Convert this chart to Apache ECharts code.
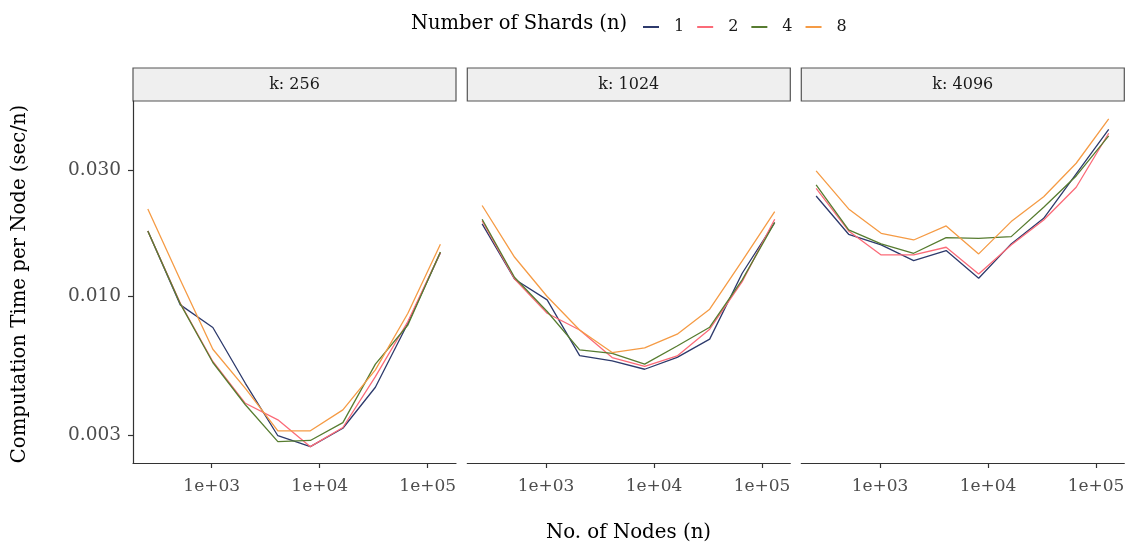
<!DOCTYPE html>
<html>
<head>
<meta charset="utf-8">
<script src="https://cdn.jsdelivr.net/npm/echarts@6/dist/echarts.min.js"></script>
<style>html,body{margin:0;padding:0;background:#fff;}#c{width:1134px;height:548px;}</style>
</head>
<body>
<div id="c"></div>
<script>
const nodes = [256, 512, 1024, 2048, 4096, 8192, 16384, 32768, 65536, 131072];
const shards = ['1', '2', '4', '8'];
const panels = ['k: 256', 'k: 1024', 'k: 4096'];
const xTicks = [1000, 10000, 100000];
const yTicks = [0.003, 0.01, 0.03];

// k = 256
const k256_n1 = [0.01767, 0.00929, 0.00763, 0.00470, 0.00298, 0.00271, 0.00318, 0.00454, 0.00792, 0.01463];
const k256_n2 = [0.01767, 0.00942, 0.00568, 0.00395, 0.00342, 0.00271, 0.00320, 0.00498, 0.00804, 0.01463];
const k256_n4 = [0.01767, 0.00937, 0.00563, 0.00390, 0.00283, 0.00286, 0.00334, 0.00555, 0.00780, 0.01472];
const k256_n8 = [0.02139, 0.01154, 0.00632, 0.00450, 0.00311, 0.00311, 0.00373, 0.00528, 0.00864, 0.01573];
// k = 1024
const k1024_n1 = [0.01878, 0.01161, 0.00970, 0.00598, 0.00571, 0.00531, 0.00589, 0.00690, 0.01223, 0.01900];
const k1024_n2 = [0.01933, 0.01164, 0.00864, 0.00747, 0.00588, 0.00544, 0.00596, 0.00752, 0.01137, 0.01955];
const k1024_n4 = [0.01955, 0.01178, 0.00877, 0.00628, 0.00610, 0.00555, 0.00650, 0.00765, 0.01154, 0.01900];
const k1024_n8 = [0.02203, 0.01405, 0.00999, 0.00747, 0.00614, 0.00639, 0.00720, 0.00895, 0.01361, 0.02090];
// k = 4096
const k4096_n1 = [0.02393, 0.01716, 0.01564, 0.01365, 0.01489, 0.01171, 0.01578, 0.01972, 0.02900, 0.04274];
const k4096_n2 = [0.02559, 0.01767, 0.01434, 0.01434, 0.01533, 0.01216, 0.01564, 0.01944, 0.02582, 0.04128];
const k4096_n4 = [0.02635, 0.01782, 0.01578, 0.01455, 0.01667, 0.01657, 0.01681, 0.02171, 0.02849, 0.04034];
const k4096_n8 = [0.02976, 0.02139, 0.01731, 0.01633, 0.01845, 0.01447, 0.01916, 0.02379, 0.03181, 0.04675];

const panelData = [
  [k256_n1, k256_n2, k256_n4, k256_n8],
  [k1024_n1, k1024_n2, k1024_n4, k1024_n8],
  [k4096_n1, k4096_n2, k4096_n4, k4096_n8]
];

const colors = ['#2d3a6c', '#fb6b78', '#577c30', '#f59b45'];
const FONT = 'DejaVu Serif';
const lefts = [133, 467.3, 801.3];
const W = 323, TOP = 101, H = 362;

const grids = [], xAxes = [], yAxes = [], series = [], graphics = [];
lefts.forEach((l, p) => {
  grids.push({ left: l, top: TOP, width: W, height: H });
  xAxes.push({
    type: 'log', gridIndex: p, min: 186.6, max: 182800,
    axisLine: { show: true, lineStyle: { color: '#333', width: 1.2 } },
    axisTick: { show: true, length: 5, lineStyle: { color: '#333', width: 1.2 }, customValues: xTicks },
    axisLabel: { show: true, color: '#4d4d4d', fontFamily: FONT, fontSize: 17, margin: 15,
      customValues: xTicks,
      formatter: v => '1e+0' + Math.round(Math.log10(v)) },
    splitLine: { show: false }, minorTick: { show: false }
  });
  yAxes.push({
    type: 'log', gridIndex: p, min: 0.002351, max: 0.05464, show: p === 0,
    axisLine: { show: true, lineStyle: { color: '#333', width: 1.2 } },
    axisTick: { show: true, length: 5, lineStyle: { color: '#333', width: 1.2 }, customValues: yTicks },
    axisLabel: { show: true, color: '#4d4d4d', fontFamily: FONT, fontSize: 18.5, margin: 12,
      customValues: yTicks,
      formatter: v => v.toFixed(3) },
    splitLine: { show: false }
  });
  panelData[p].forEach((vals, s) => {
    series.push({
      type: 'line', name: shards[s], xAxisIndex: p, yAxisIndex: p,
      data: nodes.map((n, i) => [n, vals[i]]),
      symbol: 'none', lineStyle: { color: colors[s], width: 1.3 },
      itemStyle: { color: colors[s] }, silent: true, animation: false
    });
  });
  graphics.push({
    type: 'rect', shape: { x: l, y: 68, width: W, height: 33 },
    style: { fill: '#efefef', stroke: '#555', lineWidth: 1.2 }
  });
  graphics.push({
    type: 'text', x: l + W / 2, y: 85,
    style: { text: panels[p], fill: '#1a1a1a', font: '16px "' + FONT + '"', align: 'center', verticalAlign: 'middle' }
  });
});

graphics.push({
  type: 'text', x: 411, y: 24,
  style: { text: 'Number of Shards (n)', fill: '#000', font: '19.5px "' + FONT + '"', align: 'left', verticalAlign: 'middle' }
});
graphics.push({
  type: 'text', x: 628.5, y: 533,
  style: { text: 'No. of Nodes (n)', fill: '#000', font: '19.8px "' + FONT + '"', align: 'center', verticalAlign: 'middle' }
});
graphics.push({
  type: 'text', x: 20, y: 284, rotation: Math.PI / 2,
  style: { text: 'Computation Time per Node (sec/n)', fill: '#000', font: '19.7px "' + FONT + '"', align: 'center', verticalAlign: 'middle' }
});

const chart = echarts.init(document.getElementById('c'), null, { renderer: 'canvas' });
chart.setOption({
  animation: false,
  color: colors,
  grid: grids, xAxis: xAxes, yAxis: yAxes, series: series,
  legend: {
    data: shards, left: 638, top: 14, icon: 'rect', itemWidth: 16, itemHeight: 2, itemGap: 13,
    textStyle: { fontFamily: FONT, fontSize: 16, color: '#1a1a1a', padding: [0, 0, 0, 10] },
    selectedMode: false
  },
  graphic: graphics
});
</script>
</body>
</html>
